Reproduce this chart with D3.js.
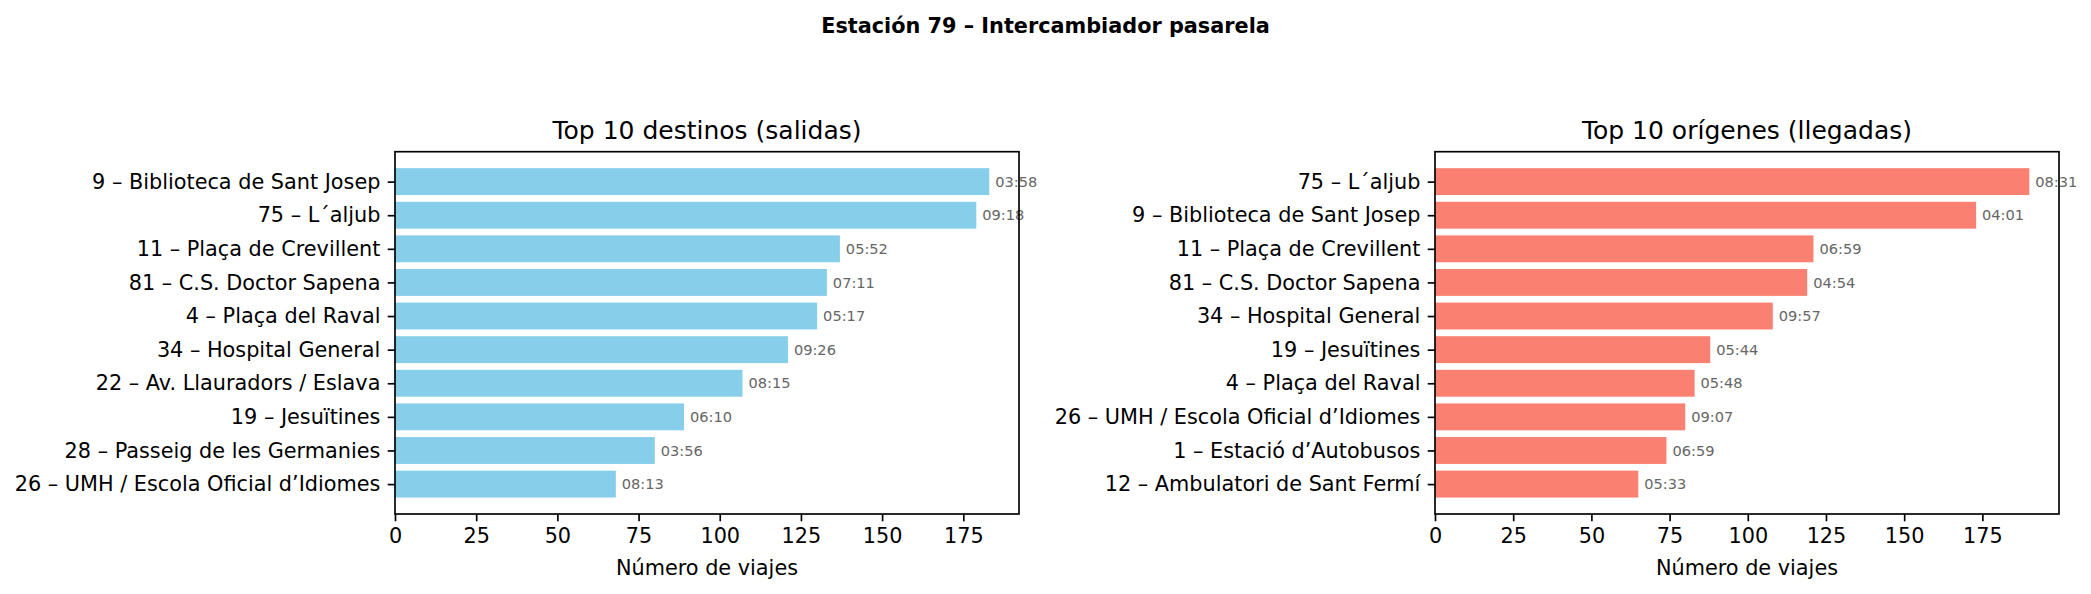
<!DOCTYPE html>
<html>
<head>
<meta charset="utf-8">
<script src="https://d3js.org/d3.v7.min.js"></script>
<style>
  body { margin: 0; background: #fff; }
  text { font-family: "DejaVu Sans", sans-serif; }
</style>
</head>
<body>
<div id="my_dataviz"></div>
<script>
// data
const destLabels = ["9 – Biblioteca de Sant Josep", "75 – L´aljub", "11 – Plaça de Crevillent",
  "81 – C.S. Doctor Sapena", "4 – Plaça del Raval", "34 – Hospital General",
  "22 – Av. Llauradors / Eslava", "19 – Jesuïtines", "28 – Passeig de les Germanies",
  "26 – UMH / Escola Oficial d’Idiomes"];
const destTrips = [183, 179, 137, 133, 130, 121, 107, 89, 80, 68];
const destTimes = ["03:58", "09:18", "05:52", "07:11", "05:17", "09:26", "08:15", "06:10", "03:56", "08:13"];

const origLabels = ["75 – L´aljub", "9 – Biblioteca de Sant Josep", "11 – Plaça de Crevillent",
  "81 – C.S. Doctor Sapena", "34 – Hospital General", "19 – Jesuïtines", "4 – Plaça del Raval",
  "26 – UMH / Escola Oficial d’Idiomes", "1 – Estació d’Autobusos", "12 – Ambulatori de Sant Fermí"];
const origTrips = [190, 173, 121, 119, 108, 88, 83, 80, 74, 65];
const origTimes = ["08:31", "04:01", "06:59", "04:54", "09:57", "05:44", "05:48", "09:07", "06:59", "05:33"];

const xTicks = [0, 25, 50, 75, 100, 125, 150, 175];

// figure size and the two panels
const W = 2091, H = 594;
const plotTop = 151.7, plotH = 362.3, plotW = 624;
const panels = [
  {left: 395, title: "Top 10 destinos (salidas)", labels: destLabels, values: destTrips, times: destTimes, color: "#87CEEB"},
  {left: 1435, title: "Top 10 orígenes (llegadas)", labels: origLabels, values: origTrips, times: origTimes, color: "#FA8072"}
];

const svg = d3.select("#my_dataviz")
  .append("svg")
    .attr("width", W)
    .attr("height", H);

svg.append("rect").attr("width", W).attr("height", H).attr("fill", "#fff");

// main title
svg.append("text")
  .attr("x", W / 2)
  .attr("y", 33.3)
  .attr("text-anchor", "middle")
  .style("font-size", "20.8px")
  .style("font-weight", "bold")
  .text("Estación 79 – Intercambiador pasarela");

panels.forEach(function (p) {
  const n = p.values.length;
  const vmax = d3.max(p.values);

  // x goes to max + 5% like matplotlib margins
  const x = d3.scaleLinear().domain([0, vmax * 1.05]).range([0, plotW]);
  // y: bar index 0 on top, 0.8 wide bars with 5% margin
  const pad = (n - 1 + 0.8) * 0.05;
  const y = d3.scaleLinear().domain([-0.4 - pad, n - 1 + 0.4 + pad]).range([0, plotH]);

  const g = svg.append("g").attr("transform", `translate(${p.left},${plotTop})`);

  // bars
  g.append("g")
    .selectAll("rect")
    .data(p.values)
    .join("rect")
      .attr("x", x(0))
      .attr("y", (d, i) => y(i - 0.4))
      .attr("width", d => x(d) - x(0))
      .attr("height", (d, i) => y(i + 0.4) - y(i - 0.4))
      .attr("fill", p.color);

  // time labels next to each bar
  g.append("g")
    .selectAll("text")
    .data(p.values)
    .join("text")
      .attr("x", d => x(d + vmax * 0.01))
      .attr("y", (d, i) => y(i))
      .attr("dy", "0.35em")
      .style("font-size", "14.6px")
      .attr("fill", "#666")
      .text((d, i) => p.times[i]);

  // axes
  const xAxis = g.append("g")
    .attr("transform", `translate(0,${plotH})`)
    .call(d3.axisBottom(x).tickValues(xTicks).tickSize(7.3).tickPadding(7.3).tickSizeOuter(0));
  const yAxis = g.append("g")
    .call(d3.axisLeft(y).tickValues(d3.range(n)).tickFormat(i => p.labels[i])
      .tickSize(7.3).tickPadding(7.3).tickSizeOuter(0));

  [xAxis, yAxis].forEach(function (a) {
    a.select(".domain").remove();
    a.selectAll(".tick line").attr("stroke", "#000").attr("stroke-width", 1.67);
    a.selectAll(".tick text").attr("fill", "#000").style("font-size", "20.8px")
      .style("font-family", "DejaVu Sans, sans-serif");
  });

  // frame
  g.append("rect")
    .attr("width", plotW)
    .attr("height", plotH)
    .attr("fill", "none")
    .attr("stroke", "#000")
    .attr("stroke-width", 1.67);

  // panel title and x label
  g.append("text")
    .attr("x", plotW / 2)
    .attr("y", -12.7)
    .attr("text-anchor", "middle")
    .style("font-size", "25px")
    .text(p.title);

  g.append("text")
    .attr("x", plotW / 2)
    .attr("y", 575 - plotTop)
    .attr("text-anchor", "middle")
    .style("font-size", "20.8px")
    .text("Número de viajes");
});
</script>
</body>
</html>
